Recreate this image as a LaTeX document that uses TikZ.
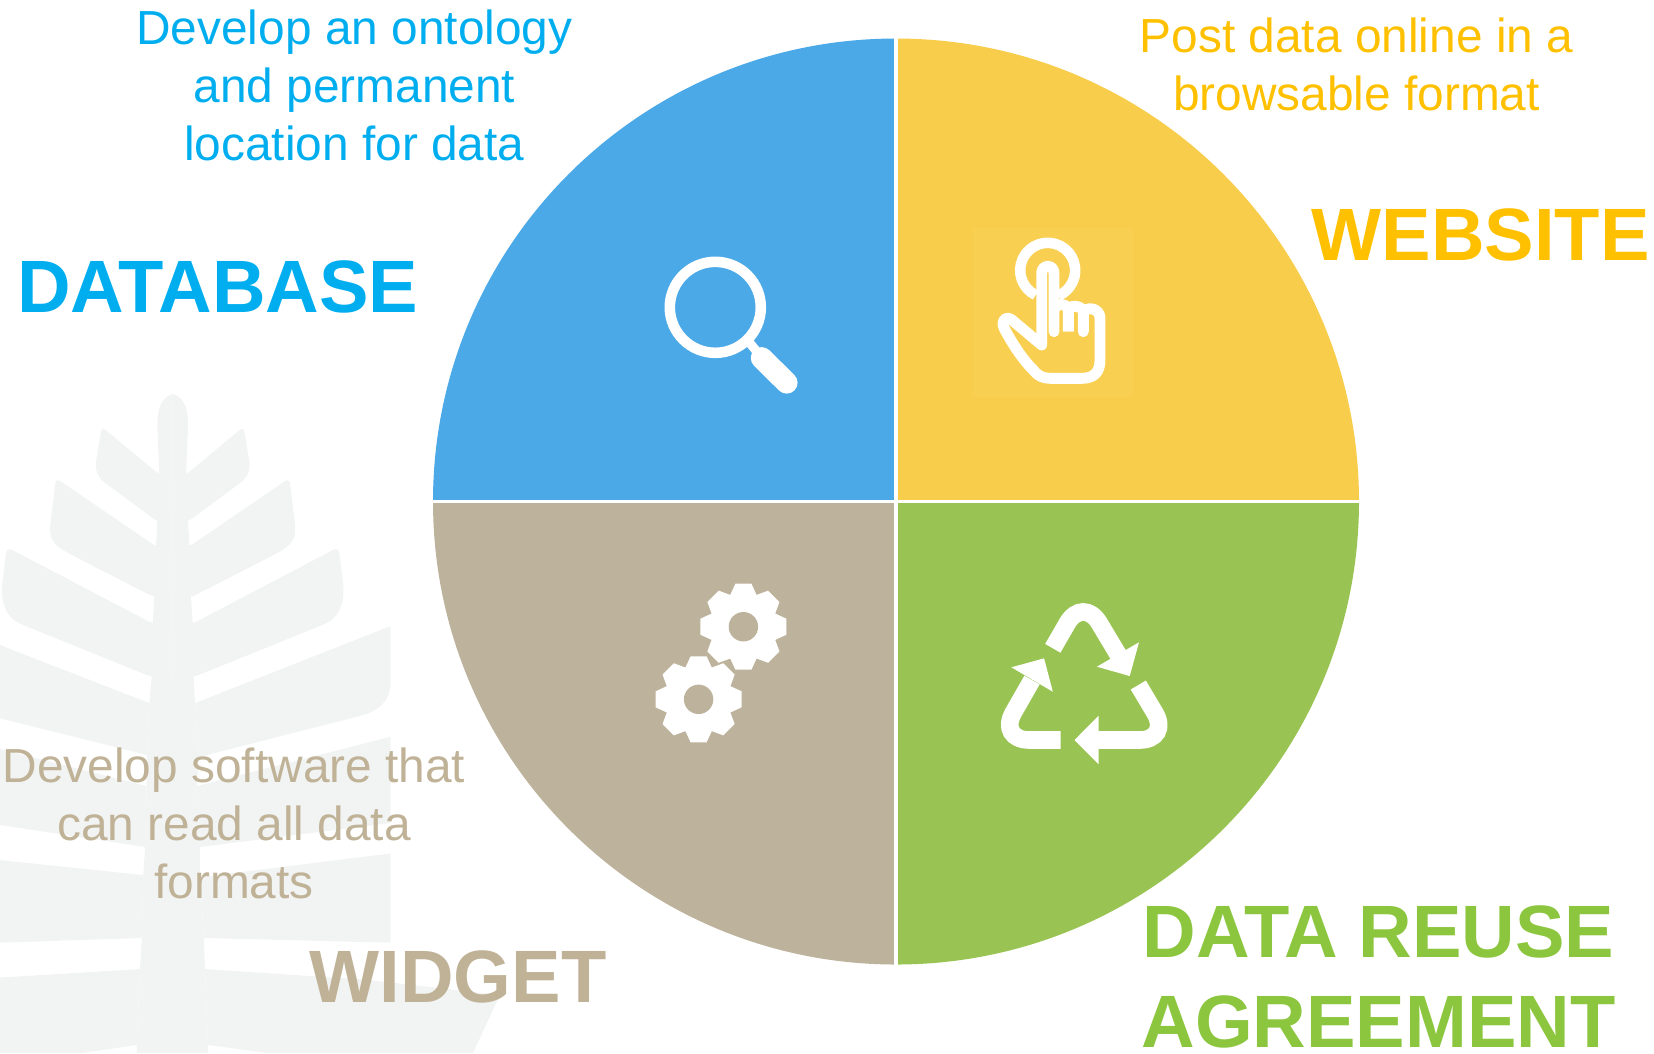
\documentclass[tikz,border=0pt]{standalone}
\usepackage{fontspec}
\setmainfont{Liberation Sans}
\definecolor{dbblue}{HTML}{00AEEF}
\definecolor{webyellow}{HTML}{FFC000}
\definecolor{widgettan}{HTML}{BFB297}
\definecolor{reusegreen}{HTML}{8CC63F}
\definecolor{sectorblue}{HTML}{4BA9E8}
\definecolor{sectoryellow}{HTML}{F8CD4B}
\definecolor{sectortan}{HTML}{BDB29B}
\definecolor{sectorgreen}{HTML}{99C453}
\definecolor{leafgrey}{HTML}{F2F4F3}

\begin{document}
\begin{tikzpicture}[x=0.01cm,y=-0.01cm,>=latex]
% --- styles ---------------------------------------------------
\tikzstyle{leaf}     =[fill=leafgrey]
\tikzstyle{note}     =[align=center,inner sep=0pt,font=\fontsize{13.6}{16.5}\selectfont]
\tikzstyle{headline} =[align=center,inner sep=0pt,font=\fontsize{21.1}{25.5}\selectfont\bfseries]
\tikzstyle{icon}     =[white,line width=3pt]
\tikzstyle{finger}   =[white,line width=3.1pt,line join=round]
\tikzstyle{recycle}  =[white,line width=5pt,rounded corners=9pt]

\useasboundingbox (0,0) rectangle (1654,1053);

% --- key coordinates ------------------------------------------
\coordinate (hub) at (896,501.5);  % pie centre
\coordinate (lens) at (715.3,307.3);
\coordinate (ring) at (1047.7,270.3);

% --- leaf in the background -----------------------------------
\foreach \sx in {1,-1}{
  \begin{scope}[shift={(172.7,0)},xscale=\sx]
    \fill[leaf] (0,394) .. controls (-12,397) and (-15.6,410) .. (-15.4,426.6) -- (-13.4,474.5) -- (-15.4,521.6)
      -- (-16.7,546.4) -- (-18.4,597.3) -- (-20,623.5) -- (-21,677) -- (0,677) -- cycle;
    \fill[leaf,rounded corners=1.5pt] (-13.4,474.5) -- (-71,426.6) -- (-77.7,468) -- (-72.7,479) -- (-15.4,521.6) -- (0,521.6) -- (0,474.5) -- cycle;
    \fill[leaf,rounded corners=1.5pt] (-16.7,546.4) -- (-116.7,478) -- (-122.7,526.8) .. controls (-122,545) and (-108,551) .. (-99,556) -- (-18.4,597.3) -- (0,597.3) -- (0,546.4) -- cycle;
    \fill[leaf,rounded corners=1.5pt] (-20,623.5) -- (-166,547) -- (-171,587.8) .. controls (-170,612) and (-160,620) .. (-149.7,625) -- (-21,677) -- (0,677) -- (0,623.5) -- cycle;
  \end{scope}
}
% stem
\fill[leaf] (151.7,677) -- (149.3,703) -- (147,755) -- (146.7,786) -- (145,847) -- (143.3,875) -- (141.7,938) -- (140,969) -- (136.7,1045) -- (136.7,1053)
  -- (208,1053) -- (208,1045) -- (205,969) -- (204,938) -- (200,877) -- (200,847) -- (196.7,786) -- (199,757) -- (195,703) -- (193.7,677) -- cycle;
% lower branches, left then right
\fill[leaf] (0,645) -- (149.3,703) -- (147,755) -- (0,718.4) -- cycle;
\fill[leaf] (195,703) -- (390.7,626) -- (390.7,683.6) .. controls (389,705) and (375,712) .. (360,716) -- (199,757) -- cycle;
\fill[leaf] (0,749) -- (146.7,786) -- (145,847) -- (0,825) -- cycle;
\fill[leaf] (196.7,786) -- (390.7,736.7) -- (390.7,823) -- (200,847) -- cycle;
\fill[leaf] (0,860) -- (143.3,875) -- (141.7,938) -- (0,942.7) -- cycle;
\fill[leaf] (200,877) -- (390.7,853.4) -- (390.7,942.7) -- (204,938) -- cycle;
\fill[leaf] (0,977.5) -- (140,969) -- (136.7,1045) -- (83,1053) -- (0,1053) -- cycle;
\fill[leaf] (205,969) -- (366.7,979.7) -- (500,995) -- (473,1053) -- (266.7,1053) -- (208,1045) -- cycle;

% --- quarters of the pie --------------------------------------
\fill[sectorblue]   (hub) -- (433,501.5) arc[start angle=180,end angle=270,radius=463] -- cycle;
\fill[sectoryellow] (hub) -- (896,38.5) arc[start angle=270,end angle=360,radius=463] -- cycle;
\fill[sectorgreen]  (hub) -- (1359,501.5) arc[start angle=0,end angle=90,radius=463] -- cycle;
\fill[sectortan]    (hub) -- (896,964.5) arc[start angle=90,end angle=180,radius=463] -- cycle;
\draw[white,line width=1.1pt] (896,35) -- (896,968);
\draw[white,line width=1.1pt] (430,501.5) -- (1362,501.5);

% --- magnifier ------------------------------------------------
\draw[icon] (lens) circle (45.5);
\draw[white,line width=2.6pt] (745,337) -- (762,358);
\draw[white,line width=6.2pt,line cap=round] (761.7,358) -- (786.7,382.7);

% --- hand -----------------------------------------------------
\fill[sectoryellow!97!white] (973,228) rectangle (1133,397);
\draw[icon] (ring) ++(116:27.5) arc[start angle=116,delta angle=311,radius=27.5];
\draw[finger,line cap=round] (1054,331.7) -- (1054,273.3) .. controls (1054,264) and (1041.7,264) .. (1041.7,273.3) -- (1041.7,345)
  -- (1012,320) .. controls (1005,315) and (1001,321) .. (1004,328) .. controls (1014,347) and (1025,362) .. (1033.3,370)
  .. controls (1038,376) and (1043,378.3) .. (1050,378.3) -- (1082,378.3) .. controls (1094,378.3) and (1100,372) .. (1100,360) -- (1100,318)
  .. controls (1100,307) and (1084,306) .. (1083.3,314) -- (1083.3,331.7);
\draw[finger] (1054,309) .. controls (1056,303) and (1067,303) .. (1068.3,309) -- (1068.3,331.7);
\draw[finger] (1068.3,309) .. controls (1070,305) and (1082,305) .. (1083.3,312);

% --- two gears ------------------------------------------------
\foreach \gx/\gy in {743.4/626.7,698.6/699.3}{
  \fill[white] (\gx,\gy) circle (33);
  \foreach \a in {0,45,...,315}
    \fill[white,shift={(\gx,\gy)},rotate=\a] (-14,-30) -- (-8,-43) -- (8,-43) -- (14,-30) -- cycle;
  \fill[sectortan] (\gx,\gy) circle (14.7);
}

% --- recycling arrows -----------------------------------------
\draw[recycle] (1052.8,648.3) -- (1083,595.9) -- (1119,656);
\fill[white] (1139,642.3) -- (1129.7,676) -- (1096.9,666.7) -- cycle;
\draw[recycle] (1138.3,685) -- (1171,740) -- (1095,740);
\fill[white] (1098.6,715.7) -- (1074.5,740) -- (1098.6,764.3) -- cycle;
\draw[recycle] (1060.7,740) -- (997.7,740) -- (1032,680);
\fill[white] (1011.4,667.3) -- (1044.1,658.3) -- (1052.8,691.7) -- cycle;

% --- texts ----------------------------------------------------
\node[note,text=dbblue] (dbnote) at (354.4,85) {Develop an ontology\\and permanent\\location for data};
\node[headline,text=dbblue] (dbhead) at (217.8,287) {DATABASE};
\node[note,text=webyellow] (webnote) at (1356.5,64) {Post data online in a\\browsable format};
\node[headline,text=webyellow] (webhead) at (1480.5,234.5) {WEBSITE};
\node[note,text=widgettan] (widgetnote) at (234,823) {Develop software that\\can read all data\\formats};
\node[headline,text=widgettan] (widgethead) at (458,977) {WIDGET};
\node[headline,text=reusegreen] (reusehead) at (1378.6,977) {DATA REUSE\\AGREEMENT};

\end{tikzpicture}
\end{document}
